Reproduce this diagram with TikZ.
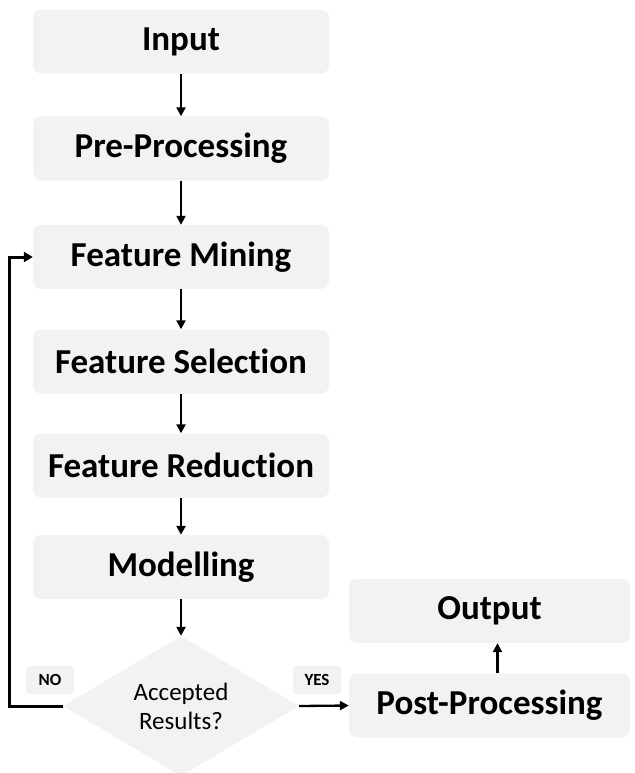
\documentclass[tikz,border=0pt]{standalone}
\usepackage{fontspec}
\setmainfont[Ligatures=NoCommon]{Carlito}
\usetikzlibrary{shapes.geometric,arrows.meta}
\definecolor{boxgray}{HTML}{F2F2F2}
\begin{document}
\begin{tikzpicture}[x=1pt,y=-1pt,
  stepbox/.style={fill=boxgray, rounded corners=8pt, minimum width=296pt, minimum height=64pt, inner sep=0pt, font=\fontsize{35}{40}\selectfont\bfseries},
  decision/.style={diamond, aspect=1.7, fill=boxgray, minimum width=236pt, minimum height=140pt, inner sep=0pt, align=center, font=\fontsize{25}{29}\selectfont},
  lbl/.style={fill=boxgray, rounded corners=3pt, minimum width=48pt, minimum height=28pt, inner sep=0pt, font=\fontsize{17}{20}\selectfont\bfseries},
  arr/.style={line width=2.3pt, -{Triangle[length=9pt,width=9pt]}},
  back/.style={line width=3pt, -{Triangle[length=9pt,width=10pt]}}
]
\useasboundingbox (0,0) rectangle (634,773);
\node[stepbox] (in) at (181,41.5) {Input};
\node[stepbox] (pre) at (181,148.5) {Pre-Processing};
\node[stepbox] (fm) at (181,257) {Feature Mining};
\node[stepbox] (fs) at (181,361.5) {Feature Selection};
\node[stepbox] (fr) at (181,465.5) {Feature Reduction};
\node[stepbox] (mo) at (181,567) {Modelling};
\node[decision] (acc) at (181,706) {Accepted\\Results?};
\node[lbl] (no) at (50,680) {NO};
\node[lbl] (yes) at (317,680) {YES};
\node[stepbox, minimum width=281pt] (out) at (489.5,611) {Output};
\node[stepbox, minimum width=281pt] (post) at (489.5,705.5) {Post-Processing};
\draw[arr] (in) -- (pre);
\draw[arr] (pre) -- (fm);
\draw[arr] (fm) -- (fs);
\draw[arr] (fs) -- (fr);
\draw[arr] (fr) -- (mo);
\draw[arr] (mo) -- (acc);
\draw[arr] (acc.east) -- (post.west);
\draw[arr] ([xshift=8pt]post.north) -- ([xshift=8pt]out.south);
\draw[back] (acc.west) -- ++(-53,0) |- (fm.west);
\end{tikzpicture}
\end{document}
